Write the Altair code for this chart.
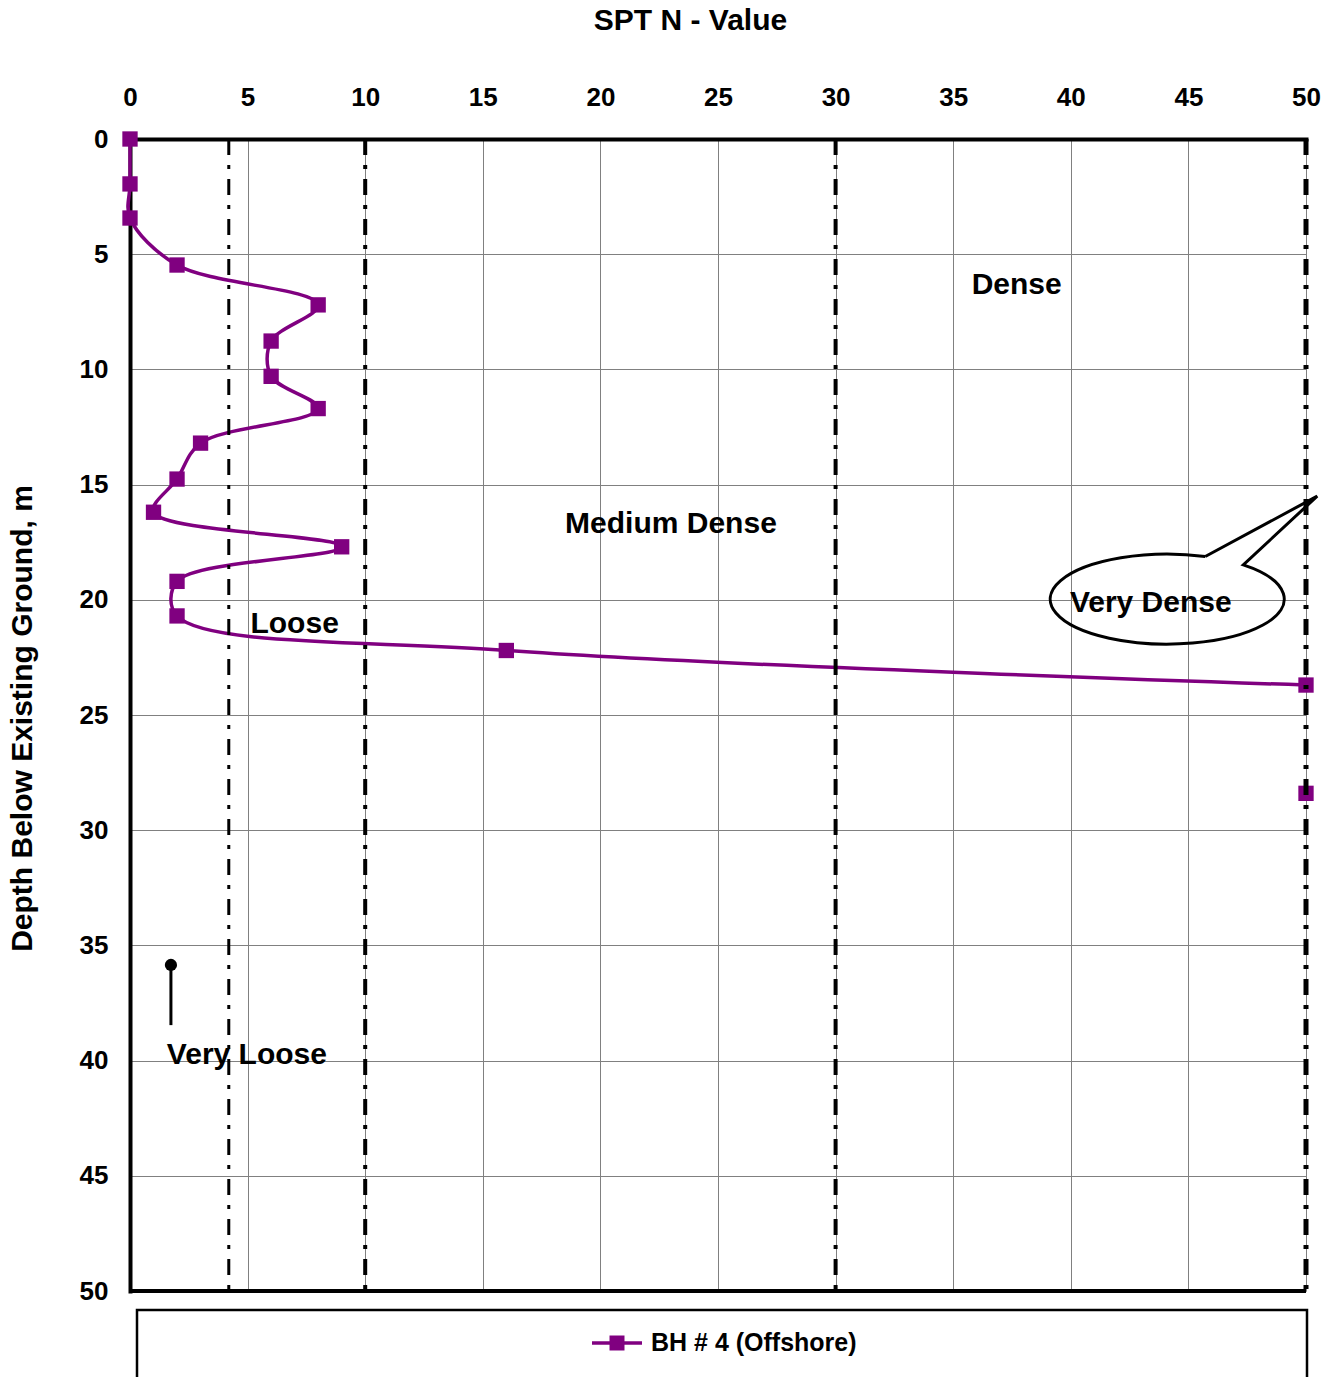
import altair as alt
import pandas as pd

# SPT profile for borehole BH # 4 (Offshore)
series_name = "BH # 4 (Offshore)"
depth_m = [0.0, 1.95, 3.43, 5.47, 7.2, 8.77, 10.3, 11.7, 13.2, 14.76, 16.2, 17.7, 19.2, 20.7, 22.2, 23.7, 28.4]
spt_n = [0, 0, 0, 2, 8, 6, 6, 8, 3, 2, 1, 9, 2, 2, 16, 50, 50]
joined = [True] * 16 + [False]  # last test (refusal) is plotted without a connecting line

# Relative density boundaries (N values) and their line weights
boundary_n = [4.2, 10, 30, 50]
boundary_width = [3, 4, 4, 5]

# Density zone labels
zone_labels = ["Dense", "Medium Dense", "Loose", "Very Loose", "Very Dense"]
zone_n = [37.7, 23.0, 7.0, 4.97, 43.4]
zone_depth = [6.34, 16.7, 21.05, 39.76, 20.14]

# Pin marker above the "Very Loose" label
pin_n = [1.74]
pin_top = [35.85]
pin_bottom = [38.46]

# Callout bubble around "Very Dense"
bubble_n = [44.1]
bubble_depth = [19.97]

tick_values = list(range(0, 51, 5))

W, H = 1176, 1152
FONT = "Liberation Sans"
PURPLE = "#800080"

profile = pd.DataFrame({"n": spt_n, "depth": depth_m, "joined": joined})
bounds = pd.DataFrame({"n": boundary_n, "w": boundary_width})
zones = pd.DataFrame({"n": zone_n, "depth": zone_depth, "label": zone_labels})
pin = pd.DataFrame({"n": pin_n, "depth": pin_top, "depth_end": pin_bottom})
bubble = pd.DataFrame({"n": bubble_n, "depth": bubble_depth})
legend_df = pd.DataFrame({"name": [series_name]})

x_axis = alt.Axis(
    orient="top", values=tick_values, title="SPT N - Value",
    ticks=False, tickSize=0, labelPadding=29, labelFlush=False, labelOverlap=False,
    grid=True, gridColor="#808080", gridWidth=1,
    domainColor="black", domainWidth=4, domainCap="square",
    titleX=560, titleY=-119, titleAlign="center", titleBaseline="middle",
)
y_axis = alt.Axis(
    orient="left", values=tick_values, title="Depth Below Existing Ground, m",
    ticks=False, tickSize=0, labelPadding=22, labelFlush=False, labelOverlap=False,
    labelBaseline="middle",
    grid=True, gridColor="#808080", gridWidth=1,
    domainColor="black", domainWidth=4, domainCap="square",
    titleX=-108, titleY=579, titleAngle=270, titleAlign="center", titleBaseline="middle",
)

X = alt.X("n:Q", scale=alt.Scale(domain=[0, 50], nice=False, zero=False), axis=x_axis)
Y = alt.Y("depth:Q", scale=alt.Scale(domain=[0, 50], reverse=True, nice=False), axis=y_axis)

line = alt.Chart(profile).transform_filter("datum.joined").mark_line(
    color=PURPLE, strokeWidth=3.5, interpolate="catmull-rom"
).encode(x=X, y=Y, order="depth:Q")

points = alt.Chart(profile).mark_square(
    color=PURPLE, size=235, opacity=1
).encode(x=X, y=Y)

bottom_edge = alt.Chart(legend_df).mark_rule(color="black", strokeWidth=4).encode(
    x=alt.value(0), x2=alt.value(W), y=alt.value(H)
)

boundaries = alt.Chart(bounds).mark_rule(
    color="black", strokeDash=[16, 10, 4, 10]
).encode(x=X, strokeWidth=alt.StrokeWidth("w:Q", scale=None, legend=None))

zone_text = alt.Chart(zones).mark_text(
    font=FONT, fontSize=30, fontWeight="bold", color="black", align="center", baseline="middle"
).encode(x=X, y=Y, text="label:N")

pin_stem = alt.Chart(pin).mark_rule(color="black", strokeWidth=3).encode(
    x=X, y=Y, y2=alt.Y2("depth_end:Q")
)
pin_head = alt.Chart(pin).mark_point(
    shape="circle", filled=True, color="black", size=150, opacity=1
).encode(x=X, y=Y)

# Ellipse with a pointer tail, drawn as one custom symbol
bubble_path = (
    "M0.325,-0.364 L1.282,-0.88 L0.65,-0.2925 "
    "A1,0.385 0 1,1 0.325,-0.364"
)
callout = alt.Chart(bubble).mark_point(
    shape=bubble_path, filled=False, stroke="black", strokeWidth=3, size=234 * 234, opacity=1
).encode(x=X, y=Y)

# Legend box below the plot
legend_box = alt.Chart(legend_df).mark_rect(
    fillOpacity=0, stroke="black", strokeWidth=2.5
).encode(x=alt.value(7), x2=alt.value(1177), y=alt.value(1171), y2=alt.value(1320))
legend_line = alt.Chart(legend_df).mark_rule(color=PURPLE, strokeWidth=3.5).encode(
    x=alt.value(462), x2=alt.value(512), y=alt.value(1204)
)
legend_square = alt.Chart(legend_df).mark_square(color=PURPLE, size=225, opacity=1).encode(
    x=alt.value(487), y=alt.value(1204)
)
legend_label = alt.Chart(legend_df).mark_text(
    font=FONT, fontSize=25, fontWeight="bold", color="black", align="left", baseline="middle"
).encode(x=alt.value(521), y=alt.value(1204), text="name:N")

chart = alt.layer(
    line, points, bottom_edge, boundaries, zone_text, pin_stem, pin_head, callout,
    legend_box, legend_line, legend_square, legend_label,
).properties(
    width=W, height=H,
    autosize=alt.AutoSizeParams(type="none"),
    padding={"left": 130, "top": 139, "right": 35, "bottom": 86},
).configure_view(
    stroke=None
).configure_axis(
    labelFont=FONT, labelFontSize=26, labelFontWeight="bold", labelColor="black",
    titleFont=FONT, titleFontSize=30, titleFontWeight="bold", titleColor="black",
)

chart.save("out.html", embed_options={"renderer": "svg", "actions": False})
